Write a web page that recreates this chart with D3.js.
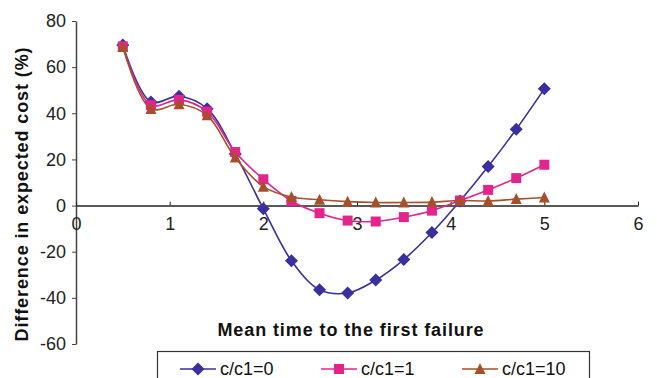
<!DOCTYPE html>
<html>
<head>
<meta charset="utf-8">
<script src="https://d3js.org/d3.v7.min.js"></script>
<style>
  body { margin: 0; background: #fff; }
  svg { display: block; font-family: "Liberation Sans", Arial, sans-serif; }
</style>
</head>
<body>
<div id="chart"></div>
<script>
// data
const xValues = [0.5, 0.8, 1.1, 1.4, 1.7, 2.0, 2.3, 2.6, 2.9, 3.2, 3.5, 3.8, 4.1, 4.4, 4.7, 5.0];
const ratio0 = [69.6, 44.9, 47.4, 42.0, 22.4, -1.4, -23.9, -36.5, -37.9, -32.3, -23.4, -11.7, 2.0, 16.9, 33.1, 50.6];
const ratio1 = [69.0, 43.5, 45.8, 40.7, 23.2, 11.4, 2.0, -3.3, -6.5, -6.9, -5.0, -2.2, 2.2, 6.8, 11.9, 17.7];
const ratio10 = [68.7, 41.9, 43.9, 39.1, 20.8, 8.2, 3.7, 2.5, 1.7, 1.3, 1.3, 1.5, 2.2, 2.0, 2.8, 3.5];
const seriesNames = ['c/c1=0', 'c/c1=1', 'c/c1=10'];
const xTicks = [0, 1, 2, 3, 4, 5, 6];
const yTicks = [-60, -40, -20, 0, 20, 40, 60, 80];

const width = 657, height = 378;
const colors = ['#3a2f9e', '#e3248d', '#a5502a'];
const shapes = ['diamond', 'square', 'triangle'];

const svg = d3.select('#chart').append('svg')
  .attr('width', width)
  .attr('height', height);

const x = d3.scaleLinear().domain([0, 6]).range([76, 638]);
const y = d3.scaleLinear().domain([-60, 80]).range([344, 21]);

// plain hyphen for negatives, like the reference
const plain = d => String(d);

// y axis
const yAxis = svg.append('g')
  .attr('transform', 'translate(76,0)')
  .call(d3.axisLeft(y).tickValues(yTicks).tickFormat(plain).tickSize(4).tickPadding(6).tickSizeOuter(0));
yAxis.select('.domain').attr('stroke', '#444').attr('stroke-width', 1.5);
yAxis.selectAll('.tick line').attr('stroke', '#444');
yAxis.selectAll('.tick text').attr('font-size', 18).attr('fill', '#222')
  .attr('font-family', '"Liberation Sans", Arial, sans-serif');

// x axis sits on zero
const xAxis = svg.append('g')
  .attr('transform', `translate(0,${y(0)})`)
  .call(d3.axisBottom(x).tickValues(xTicks).tickFormat(plain).tickSize(-4).tickSizeOuter(0));
xAxis.select('.domain').attr('stroke', '#222').attr('stroke-width', 1.5);
xAxis.selectAll('.tick line').attr('stroke', '#222');
xAxis.selectAll('.tick text').attr('y', 12).attr('font-size', 18).attr('fill', '#222')
  .attr('font-family', '"Liberation Sans", Arial, sans-serif');

// titles
svg.append('text')
  .attr('x', 351).attr('y', 336)
  .attr('text-anchor', 'middle')
  .attr('font-size', 18).attr('font-weight', 'bold')
  .attr('letter-spacing', 0.9)
  .attr('fill', '#111')
  .text('Mean time to the first failure');

svg.append('text')
  .attr('transform', 'translate(28,194) rotate(-90)')
  .attr('text-anchor', 'middle')
  .attr('font-size', 18).attr('font-weight', 'bold')
  .attr('letter-spacing', 0.9)
  .attr('fill', '#111')
  .text('Difference in expected cost (%)');

function marker(shape) {
  if (shape === 'diamond') return 'M0,-6.5L6.5,0L0,6.5L-6.5,0Z';
  if (shape === 'square') return 'M-5,-5H5V5H-5Z';
  return 'M0,-6L5.5,5H-5.5Z';
}

const allSeries = [ratio0, ratio1, ratio10];
const line = d3.line()
  .x((d, i) => x(xValues[i]))
  .y(d => y(d))
  .curve(d3.curveCatmullRom.alpha(0.5));

allSeries.forEach((vals, s) => {
  const g = svg.append('g');
  g.append('path')
    .datum(vals)
    .attr('d', line)
    .attr('fill', 'none')
    .attr('stroke', colors[s])
    .attr('stroke-width', 1.6);
  g.selectAll('path.pt')
    .data(vals)
    .enter()
    .append('path')
    .attr('class', 'pt')
    .attr('d', marker(shapes[s]))
    .attr('transform', (d, i) => `translate(${x(xValues[i])},${y(d)})`)
    .attr('fill', colors[s]);
});

// legend (box runs past the bottom edge like the reference)
const legend = svg.append('g');
legend.append('rect')
  .attr('x', 157.5).attr('y', 351.5)
  .attr('width', 432).attr('height', 40)
  .attr('fill', '#fff').attr('stroke', '#333').attr('stroke-width', 1.2);

const legendX = [180, 321, 462];
seriesNames.forEach((name, s) => {
  const lx = legendX[s];
  legend.append('line')
    .attr('x1', lx).attr('x2', lx + 36)
    .attr('y1', 369).attr('y2', 369)
    .attr('stroke', colors[s]).attr('stroke-width', 1.6);
  legend.append('path')
    .attr('d', marker(shapes[s]))
    .attr('transform', `translate(${lx + 18},369)`)
    .attr('fill', colors[s]);
  legend.append('text')
    .attr('x', lx + 40).attr('y', 374.5)
    .attr('font-size', 18).attr('fill', '#111')
    .text(name);
});
</script>
</body>
</html>
